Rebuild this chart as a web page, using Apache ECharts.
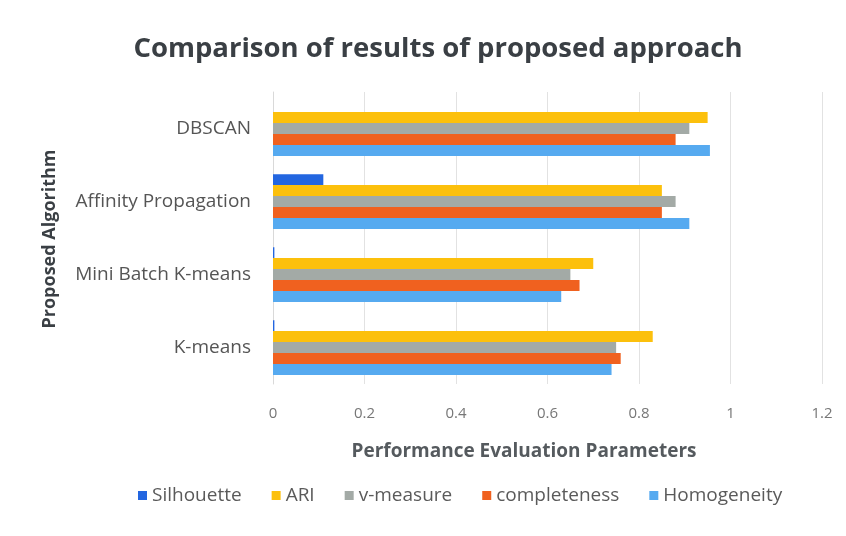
<!DOCTYPE html>
<html><head><meta charset="utf-8">
<script src="https://cdn.jsdelivr.net/npm/echarts@6/dist/echarts.min.js"></script>
<style>html,body{margin:0;padding:0;background:#fff}#c{width:846px;height:536px}</style>
</head><body><div id="c"></div>
<script>
const categories = ['K-means', 'Mini Batch K-means', 'Affinity Propagation', 'DBSCAN'];
const silhouette = [0.003, 0.003, 0.11, 0];
const ari = [0.83, 0.70, 0.85, 0.95];
const vMeasure = [0.75, 0.65, 0.88, 0.91];
const completeness = [0.76, 0.67, 0.85, 0.88];
const homogeneity = [0.74, 0.63, 0.91, 0.955];
const xTicks = [0, 0.2, 0.4, 0.6, 0.8, 1, 1.2];

const font = 'Open Sans';
const chart = echarts.init(document.getElementById('c'));
const mk = (name, data, color) => ({
  name, type: 'bar', data, barGap: 0, barCategoryGap: '25%',
  itemStyle: { color }
});
chart.setOption({
  animation: false,
  backgroundColor: '#fff',
  title: {
    text: 'Comparison of results of proposed approach',
    left: 433, textAlign: 'center', top: 30,
    textStyle: { fontFamily: font, fontSize: 27.5, fontWeight: 'bold', color: '#3a3f44' }
  },
  legend: {
    top: 481, left: 133, itemWidth: 9, itemHeight: 9, itemGap: 30, icon: 'rect',
    data: ['Silhouette', 'ARI', 'v-measure', 'completeness', 'Homogeneity'],
    textStyle: { fontFamily: font, fontSize: 19, color: '#5a5a5a' }
  },
  graphic: [
    { type: 'text', x: 524, y: 452,
      style: { text: 'Performance Evaluation Parameters', font: 'bold 19px "Open Sans"', fill: '#555a5e', textAlign: 'center', textVerticalAlign: 'middle' } },
    { type: 'text', x: 50, y: 239, rotation: Math.PI / 2,
      style: { text: 'Proposed Algorithm', font: 'bold 18px "Open Sans"', fill: '#3a3f44', textAlign: 'center', textVerticalAlign: 'middle' } }
  ],
  grid: { left: 273, right: 24, top: 92, bottom: 152, containLabel: false },
  xAxis: {
    type: 'value', min: xTicks[0], max: xTicks[xTicks.length - 1], interval: 0.2,
    axisLine: { show: false }, axisTick: { show: false },
    axisLabel: { fontFamily: font, fontSize: 15, color: '#777', margin: 22 },
    splitLine: { lineStyle: { color: '#e2e2e2' } }
  },
  yAxis: {
    type: 'category', data: categories,
    axisLine: { show: true, lineStyle: { color: '#d9d9d9' } }, axisTick: { show: false },
    axisLabel: { fontFamily: font, fontSize: 19, color: '#555', margin: 22 }
  },
  series: [
    mk('Silhouette', silhouette, '#2366e0'),
    mk('ARI', ari, '#fcc00c'),
    mk('v-measure', vMeasure, '#a3aaa6'),
    mk('completeness', completeness, '#f0611f'),
    mk('Homogeneity', homogeneity, '#56aaf0')
  ]
});
</script></body></html>
